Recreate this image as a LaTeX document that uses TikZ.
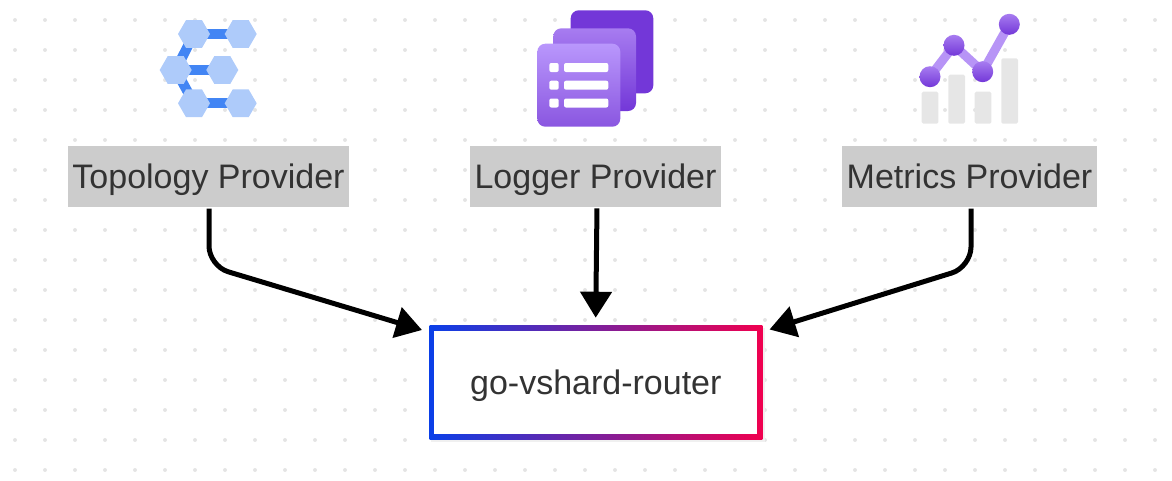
\documentclass[tikz,border=0pt]{standalone}
\usepackage{fontspec}
\setmainfont{Liberation Sans}
\usetikzlibrary{arrows.meta,positioning,calc,shapes.geometric}

\definecolor{dotgray}{HTML}{E4E4E4}
\definecolor{boxgray}{HTML}{CCCCCC}
\definecolor{textgray}{HTML}{333333}
\definecolor{hexlight}{HTML}{AECBFA}
\definecolor{hexdark}{HTML}{4285F4}
\definecolor{purpledark}{HTML}{7337D8}
\definecolor{purplemid}{HTML}{A77CF0}
\definecolor{purplelight}{HTML}{B997FC}
\definecolor{purplefront}{HTML}{8A56E0}
\definecolor{linepurple}{HTML}{B794F6}
\definecolor{bargray}{HTML}{E6E6E6}
\definecolor{routerblue}{HTML}{0A3FE8}
\definecolor{routermid}{HTML}{7A1FA0}
\definecolor{routerred}{HTML}{F0004F}

\tikzset{
    provider/.style={fill=boxgray,text=textgray,font=\fontsize{34}{36}\selectfont,inner sep=0pt,minimum height=61pt,text height=30pt,text depth=5.6pt},
    link/.style={-{Triangle[length=26pt,width=31pt]},line width=5pt,rounded corners=20pt,shorten <=1.3pt},
    griddot/.style={fill=dotgray,circle,inner sep=0pt,minimum size=4pt},
    hexnode/.style={regular polygon,regular polygon sides=6,fill=hexlight,inner sep=0pt,minimum size=32pt},
    hexlink/.style={draw=hexdark,line width=10pt},
    metricdot/.style={circle,top color=purplemid,bottom color=purpledark,inner sep=0pt,minimum size=21pt},
    metricbar/.style={fill=bargray,rounded corners=1.5pt},
    listmark/.style={fill=white,rounded corners=2pt}
}

\begin{document}
\begin{tikzpicture}[x=1pt,y=-1pt]
    \useasboundingbox (0,0) rectangle (1172,480);

    % Background dots
    \foreach \dx in {0,...,38} {
        \foreach \dy in {0,...,15} {
            \node[griddot] (dot-\dx-\dy) at (15+30*\dx,20+30*\dy) {};
        }
    }

    % Topology icon links
    \coordinate (topA) at (194,34);
    \coordinate (topB) at (240.7,34);
    \coordinate (midA) at (175.7,70);
    \coordinate (midB) at (222.3,70);
    \coordinate (botA) at (194,103.3);
    \coordinate (botB) at (240.7,103.3);
    \draw[hexlink] (topA) -- (topB);
    \draw[hexlink] (midA) -- (midB);
    \draw[hexlink] (botA) -- (botB);
    \draw[hexlink] (topA) -- (midA) -- (botA);

    % Topology icon hexagons
    \node[hexnode] (hexTopA) at (topA) {};
    \node[hexnode] (hexTopB) at (topB) {};
    \node[hexnode] (hexMidA) at (midA) {};
    \node[hexnode] (hexMidB) at (midB) {};
    \node[hexnode] (hexBotA) at (botA) {};
    \node[hexnode] (hexBotB) at (botB) {};

    % Logger icon
    \fill[purpledark,rounded corners=8pt] (570.7,10.3) rectangle (653.3,93.3);
    \shade[top color=purplemid,bottom color=purpledark,rounded corners=8pt] (553.3,28.3) rectangle (636,111);
    \shade[top color=purplelight,bottom color=purplefront,rounded corners=8pt] (537.3,43.7) rectangle (620.3,126.7);
    \foreach \ly in {63,80.7,98.5} {
        \fill[listmark] (549.3,\ly) rectangle (558.7,\ly+9);
        \fill[listmark] (564,\ly) rectangle (608.3,\ly+9);
    }

    % Metrics icon
    \fill[metricbar] (921.7,91.7) rectangle (938.3,123.7);
    \fill[metricbar] (948.3,74.7) rectangle (965,123.7);
    \fill[metricbar] (974.7,91.7) rectangle (991.3,123.7);
    \fill[metricbar] (1001.3,58.3) rectangle (1018,123.7);
    \coordinate (ptA) at (930,76.7);
    \coordinate (ptB) at (954,45.3);
    \coordinate (ptC) at (982.7,71.7);
    \coordinate (ptD) at (1009.3,24.3);
    \draw[linepurple,line width=9pt] (ptA) -- (ptB) -- (ptC) -- (ptD);
    \node[metricdot] (dotA) at (ptA) {};
    \node[metricdot] (dotB) at (ptB) {};
    \node[metricdot] (dotC) at (ptC) {};
    \node[metricdot] (dotD) at (ptD) {};

    % Providers
    \node[provider,minimum width=281pt] (topology) at (208.5,176.5) {Topology Provider};
    \node[provider,minimum width=251pt] (logger) at (595.5,176.5) {Logger Provider};
    \node[provider,minimum width=255pt] (metrics) at (969.5,176.5) {Metrics Provider};

    % Router
    \fill[black!6] (431,328) rectangle (765,442);
    \shade[left color=routerblue,middle color=routermid,right color=routerred] (429.5,325.5) rectangle (762.3,439);
    \node[fill=white,text=textgray,font=\fontsize{34}{36}\selectfont,inner sep=0pt,minimum width=323pt,minimum height=103.5pt,text height=29.5pt,text depth=6pt] (router) at (595.8,382.25) {go-vshard-router};

    % Arcs
    \coordinate (topoBend) at (209,266);
    \coordinate (topoEnd) at (422,330);
    \coordinate (logStart) at (597,207);
    \coordinate (logEnd) at (595.7,317.7);
    \coordinate (metricsBend) at (971,267);
    \coordinate (metricsEnd) at (769.5,329.5);
    \draw[link] (topology.south -| topoBend) -- (topoBend) -- (topoEnd);
    \draw[link] (logStart) -- (logEnd);
    \draw[link] (metrics.south -| metricsBend) -- (metricsBend) -- (metricsEnd);
\end{tikzpicture}
\end{document}
